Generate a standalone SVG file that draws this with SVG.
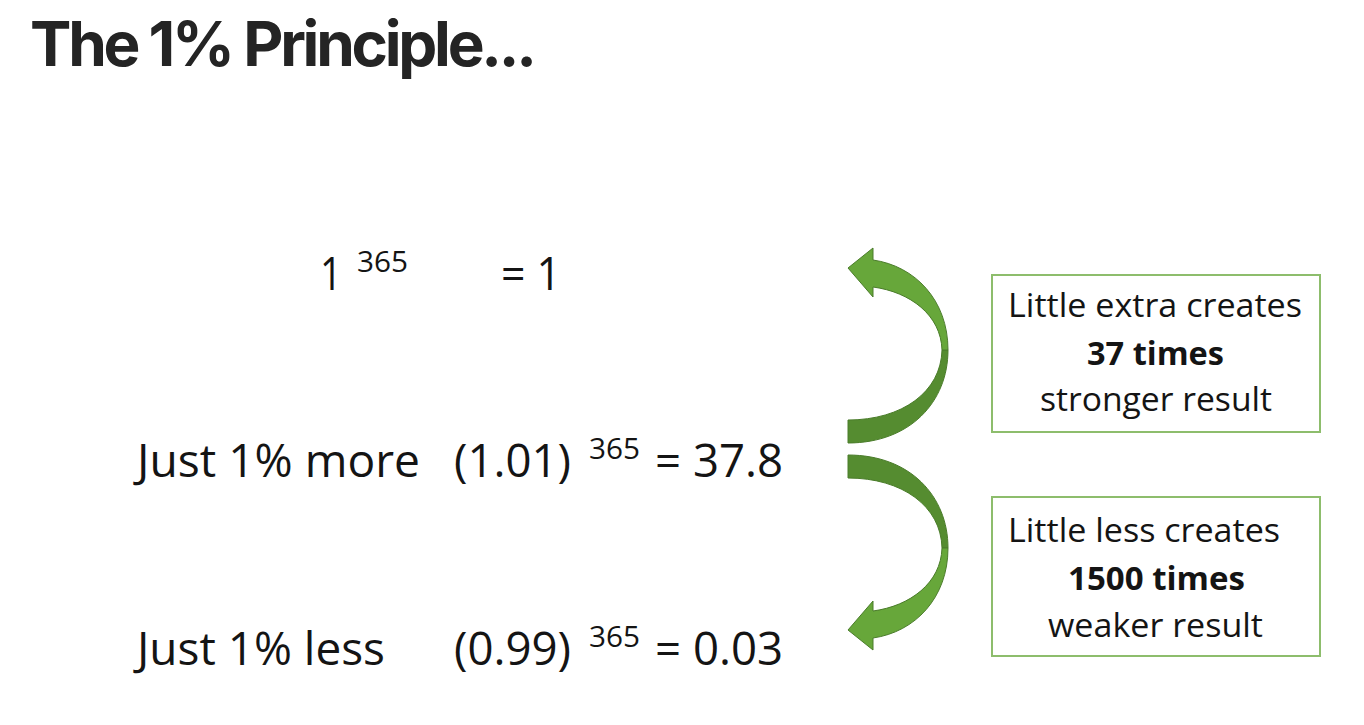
<svg xmlns="http://www.w3.org/2000/svg" width="1364" height="725" viewBox="0 0 1364 725">
  <style>
    .title { font-family: Inter, "Liberation Sans", sans-serif; font-weight: 700; font-size: 62px; fill: #242424; }
    .eq { font-family: "Open Sans", "Noto Sans", sans-serif; font-size: 45px; fill: #141414; }
    .sup { font-family: "Open Sans", "Noto Sans", sans-serif; font-size: 30px; fill: #141414; }
    .note { font-family: "Open Sans", "Noto Sans", sans-serif; font-size: 33px; fill: #141414; text-anchor: start; }
    .bold { font-weight: 700; }
    .box { fill: #ffffff; stroke: #8dbd6c; stroke-width: 2; }
    .back { fill: #558c30; stroke: #4a7c2a; stroke-width: 1; }
    .front { fill: #67a73a; stroke: #4a7c2a; stroke-width: 1; }
  </style>
  <defs>
    <!-- curved ribbon arrow: base at left (y 420-443), bulging right, head pointing up-left -->
    <g id="curvedArrow">
      <path class="back" d="M848 443 C910 443 948 402 948 350 L942 350 C941 392 902 420 848 420 Z"/>
      <path class="front" d="M948 350 C948 300 915 266 873 260 L873 248 L848 268 L873 297 L873 287 C910 292 941 315 942 350 Z"/>
    </g>
  </defs>
  <rect width="1364" height="725" fill="#ffffff"/>

  <text class="title" x="30" y="66" textLength="507" lengthAdjust="spacing">The 1% Principle...</text>

  <g id="row-base">
    <text class="eq" x="320" y="290" textLength="22" lengthAdjust="spacingAndGlyphs">1</text>
    <text class="sup" x="357" y="272" textLength="51" lengthAdjust="spacingAndGlyphs">365</text>
    <text class="eq" x="501" y="290" textLength="60" lengthAdjust="spacingAndGlyphs">= 1</text>
  </g>
  <g id="row-more">
    <text class="eq" x="137" y="477" textLength="283" lengthAdjust="spacingAndGlyphs">Just 1% more</text>
    <text class="eq" x="454" y="477" textLength="117" lengthAdjust="spacingAndGlyphs">(1.01)</text>
    <text class="sup" x="589" y="459" textLength="51" lengthAdjust="spacingAndGlyphs">365</text>
    <text class="eq" x="655" y="477" textLength="128" lengthAdjust="spacingAndGlyphs">= 37.8</text>
  </g>
  <g id="row-less">
    <text class="eq" x="137" y="665" textLength="248" lengthAdjust="spacingAndGlyphs">Just 1% less</text>
    <text class="eq" x="454" y="665" textLength="117" lengthAdjust="spacingAndGlyphs">(0.99)</text>
    <text class="sup" x="589" y="647" textLength="51" lengthAdjust="spacingAndGlyphs">365</text>
    <text class="eq" x="655" y="665" textLength="128" lengthAdjust="spacingAndGlyphs">= 0.03</text>
  </g>

  <g id="connectors">
    <use href="#curvedArrow"/>
    <use href="#curvedArrow" transform="translate(0 898) scale(1 -1)"/>
  </g>

  <g id="note-stronger">
    <rect class="box" x="992" y="275" width="328" height="157"/>
    <text class="note" x="1008" y="317" textLength="294" lengthAdjust="spacingAndGlyphs">Little extra creates</text>
    <text class="note bold" x="1087" y="365" textLength="137" lengthAdjust="spacingAndGlyphs">37 times</text>
    <text class="note" x="1040" y="411" textLength="232" lengthAdjust="spacingAndGlyphs">stronger result</text>
  </g>
  <g id="note-weaker">
    <rect class="box" x="992" y="497" width="328" height="159"/>
    <text class="note" x="1008" y="542" textLength="272" lengthAdjust="spacingAndGlyphs">Little less creates</text>
    <text class="note bold" x="1068" y="590" textLength="177" lengthAdjust="spacingAndGlyphs">1500 times</text>
    <text class="note" x="1048" y="637" textLength="215" lengthAdjust="spacingAndGlyphs">weaker result</text>
  </g>
</svg>
